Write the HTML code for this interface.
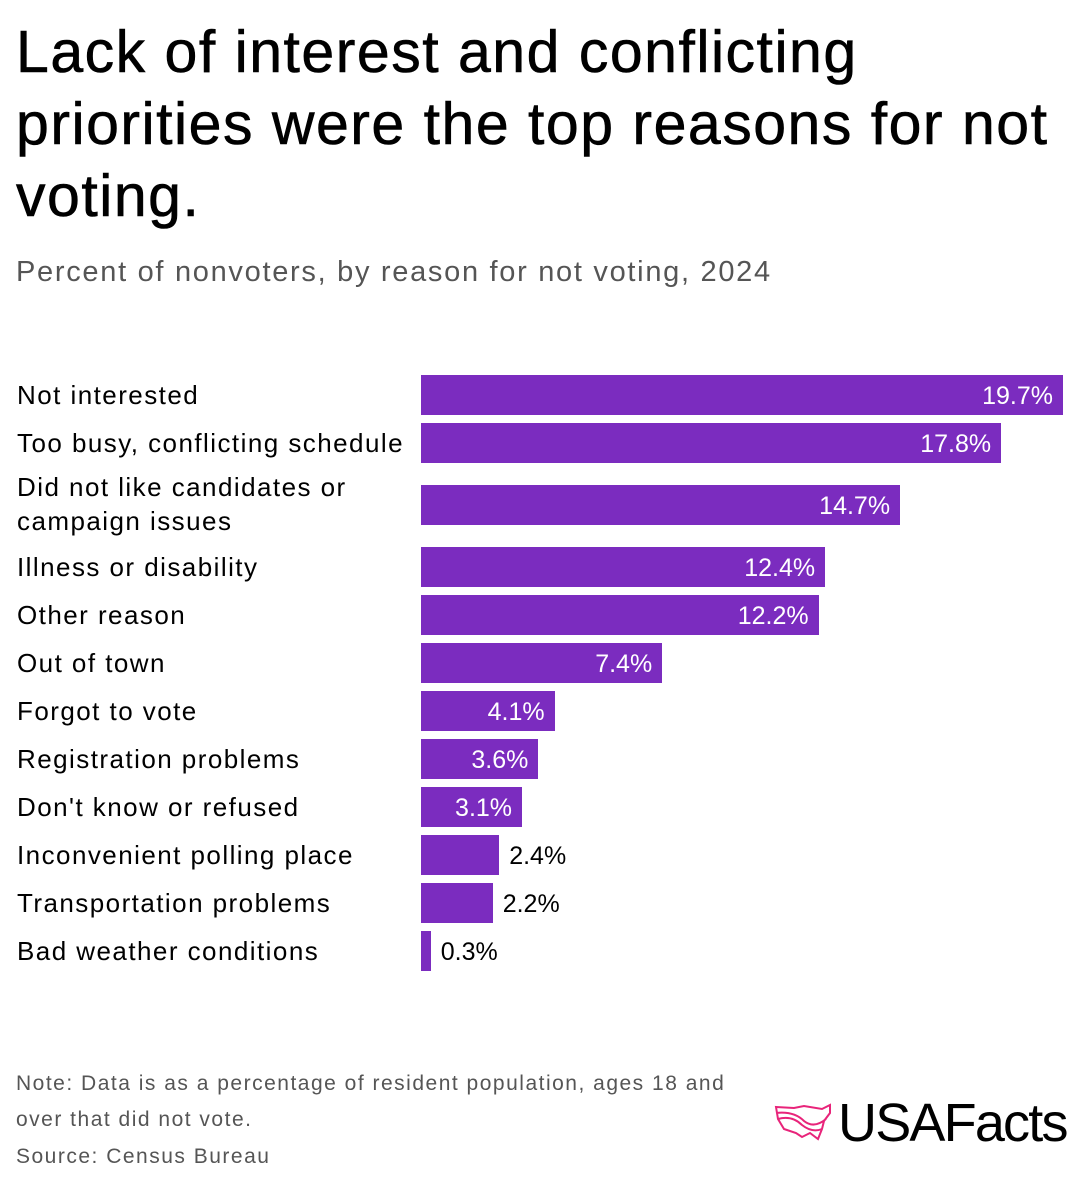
<!DOCTYPE html>
<html><head><meta charset="utf-8"><style>
body{margin:0;width:1080px;height:1190px;background:#fff;font-family:"Liberation Sans",sans-serif;position:relative;overflow:hidden}
.t{position:absolute;left:16px;top:16px;font-size:59px;line-height:72px;color:#000;letter-spacing:1.5px;white-space:nowrap;-webkit-text-stroke:0.6px #000}
.s{position:absolute;left:16px;top:256px;font-size:29px;color:#555;letter-spacing:1.7px}
.lab{position:absolute;left:17px;font-size:26px;color:#000;line-height:34px;letter-spacing:1.45px;white-space:nowrap}
.bar{position:absolute;background:#7b2cbf;height:40px}
.val{position:absolute;font-size:25px;line-height:40px}
.note{position:absolute;left:16px;font-size:21px;color:#555;letter-spacing:1.5px;white-space:nowrap}
</style></head><body>
<div class="t">Lack of interest and conflicting<br>priorities were the top reasons for not<br>voting.</div>
<div class="s">Percent of nonvoters, by reason for not voting, 2024</div>
<div id="chart"></div>
<div class="note" style="top:1072px">Note: Data is as a percentage of resident population, ages 18 and</div>
<div class="note" style="top:1108px">over that did not vote.</div>
<div class="note" style="top:1145px">Source: Census Bureau</div>
<div style="position:absolute;left:774px;top:1092px;display:flex;align-items:center">
<svg width="58" height="40" viewBox="0 0 58 40"><path d="M2 4 L20 5 L30 3 L48 6 L56 2 L56 10 L50 18 L48 26 L44 36 L36 30 L28 34 L22 30 L10 26 L4 16 Z M2 10 Q20 8 30 18 Q40 26 52 16 M4 16 Q18 12 28 22 Q38 30 48 26" fill="none" stroke="#e8247a" stroke-width="2"/></svg>
<span style="font-size:54px;font-weight:500;letter-spacing:-1.8px;margin-left:6px;color:#000">USAFacts</span></div>
<script>
const categories=["Not interested","Too busy, conflicting schedule","Did not like candidates or campaign issues","Illness or disability","Other reason","Out of town","Forgot to vote","Registration problems","Don't know or refused","Inconvenient polling place","Transportation problems","Bad weather conditions"];
const values=[19.7,17.8,14.7,12.4,12.2,7.4,4.1,3.6,3.1,2.4,2.2,0.3];
const x0=421, scale=642/19.7;
function xs(v){return v*scale;}
const c=document.getElementById('chart');
let y=375;
categories.forEach((cat,i)=>{
  const two=cat.length>32;
  const lab=document.createElement('div');
  lab.className='lab';
  
  
  lab.style.top=(two?y-15:y+3)+'px';
  lab.innerHTML=two?"Did not like candidates or<br>campaign issues":cat;
  c.appendChild(lab);
  const b=document.createElement('div');
  b.className='bar';
  
  
  const w=xs(values[i]);
  b.style.left=x0+'px';b.style.top=y+'px';b.style.width=w+'px';
  c.appendChild(b);
  const v=document.createElement('div');
  v.className='val';
  
  
  v.textContent=values[i].toFixed(1)+'%';
  v.style.top=(y+1)+'px';
  if(w>100){v.style.right=(1080-x0-w+10)+'px';v.style.color='#fff';}
  else{v.style.left=(x0+w+10)+'px';v.style.color='#000';}
  c.appendChild(v);
  y+=two?62:48;
  if(i===1) y+=14;
});
</script>
</body></html>
